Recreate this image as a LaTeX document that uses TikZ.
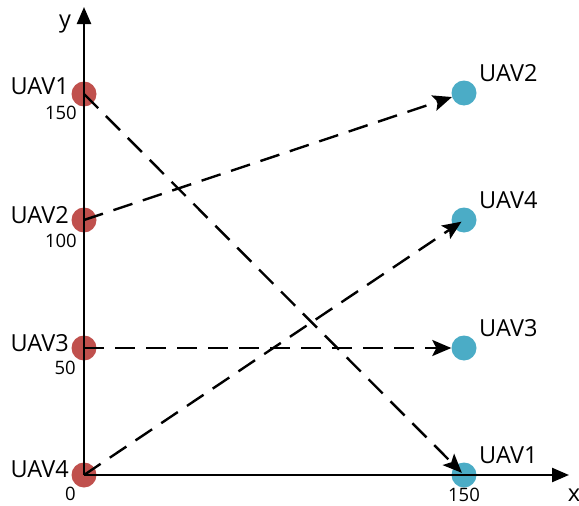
\documentclass[tikz,border=0pt]{standalone}
\usepackage{fontspec}
\setmainfont{Open Sans}
\usetikzlibrary{arrows.meta}
\definecolor{startred}{HTML}{C0504D}
\definecolor{endblue}{HTML}{4BACC6}
\begin{document}
\begin{tikzpicture}[x=1pt,y=-1pt,
  startpt/.style={circle, fill=startred, minimum size=25pt, inner sep=0pt},
  endpt/.style={circle, fill=endblue, minimum size=25pt, inner sep=0pt},
  axis/.style={line width=2.4pt, -{Triangle[length=17pt,width=14pt]}},
  route/.style={line width=2.4pt, dash pattern=on 20pt off 11pt, -{Stealth[length=19pt,width=16pt,inset=4pt]}},
  lab/.style={font=\fontsize{23.5}{23.5}\selectfont, inner sep=0pt},
  tick/.style={font=\fontsize{18.5}{18.5}\selectfont, inner sep=0pt}]
\useasboundingbox (0,0) rectangle (579,506);

% start positions on the y axis
\node[startpt] (r1) at (84,94) {};
\node[startpt] (r2) at (84,220) {};
\node[startpt] (r3) at (84,348) {};
\node[startpt] (r4) at (84,475) {};
% target positions at x = 150
\node[endpt] (b2) at (464,93) {};
\node[endpt] (b4) at (464,220) {};
\node[endpt] (b3) at (464,348) {};
\node[endpt] (b1) at (464,475) {};

% axes
\coordinate (O) at (84,475);
\coordinate (ytip) at (84,7);
\coordinate (xtip) at (569,475);
\draw[axis] (O) -- (ytip);
\draw[axis] (O) -- (xtip);
\node[lab] (ylab) at (65,24) {y};
\node[lab] (xlab) at (574,495) {x};

% labels of the start positions
\node[lab, anchor=east] (l1) at (69,86) {UAV1};
\node[lab, anchor=east] (l2) at (69,215) {UAV2};
\node[lab, anchor=east] (l3) at (69,343) {UAV3};
\node[lab, anchor=east] (l4) at (69,469) {UAV4};
\node[tick, anchor=east] (t150) at (77,113) {150};
\node[tick, anchor=east] (t100) at (77,241) {100};
\node[tick, anchor=east] (t50) at (76,368) {50};
\node[tick, anchor=east] (t0) at (76,494) {0};

% labels of the target positions
\node[lab, anchor=west] (m2) at (479,73) {UAV2};
\node[lab, anchor=west] (m4) at (479,200) {UAV4};
\node[lab, anchor=west] (m3) at (479,328) {UAV3};
\node[lab, anchor=west] (m1) at (479,455) {UAV1};
\node[tick] (x150) at (464,495) {150};

% assignment routes
\draw[route, shorten >=3pt] (r1.center) -- (b1.center);
\draw[route] (r2.center) -- (b2);
\draw[route] (r3.center) -- (b3);
\draw[route, shorten >=3pt] (r4.center) -- (b4.center);
\end{tikzpicture}
\end{document}
